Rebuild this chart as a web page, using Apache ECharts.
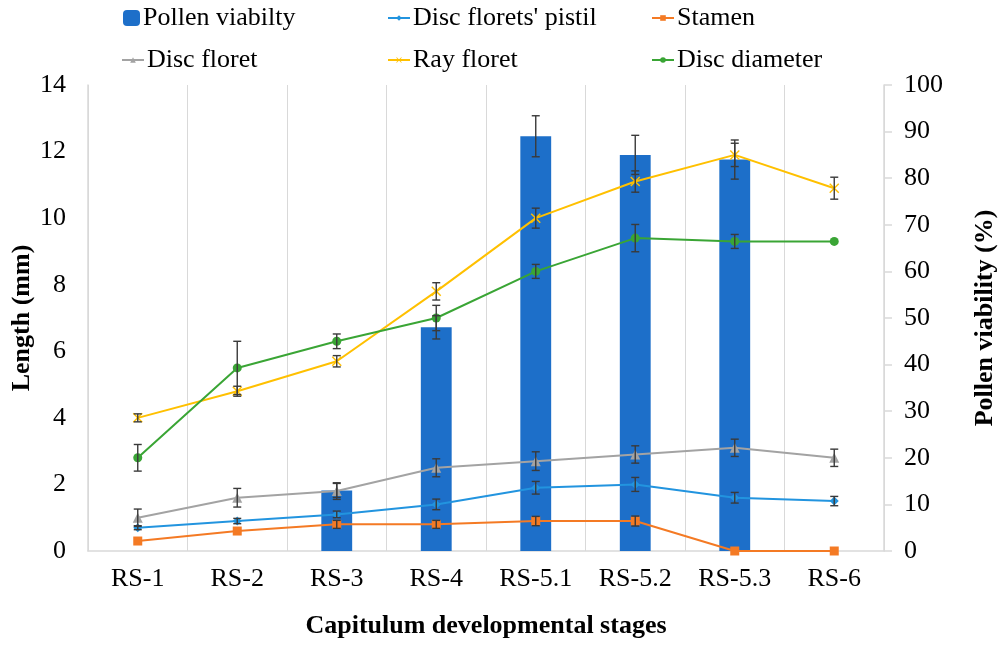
<!DOCTYPE html>
<html>
<head>
<meta charset="utf-8">
<script src="https://cdn.jsdelivr.net/npm/echarts@6/dist/echarts.min.js"></script>
<style>
  html, body { margin: 0; padding: 0; background: #fff; }
  #chart { width: 1000px; height: 646px; }
</style>
</head>
<body>
<div id="chart"></div>
<script>
// Capitulum stages
const stages = ['RS-1', 'RS-2', 'RS-3', 'RS-4', 'RS-5.1', 'RS-5.2', 'RS-5.3', 'RS-6'];

// Pollen viability (%) with standard errors
const pollenViability = [null, null, 13, 48, 89, 85, 84, null];
const pollenViabilityErr = [null, null, 1.5, 2.5, 4.4, 4.2, 4.2, null];

// Lengths (mm) with standard errors
const pistil = [0.7, 0.9, 1.1, 1.4, 1.9, 2.0, 1.6, 1.5];
const pistilErr = [0.06, 0.08, 0.1, 0.16, 0.19, 0.21, 0.16, 0.14];

const stamen = [0.3, 0.6, 0.8, 0.8, 0.9, 0.9, 0.0, 0.0];
const stamenErr = [null, null, 0.12, 0.12, 0.14, 0.15, null, null];

const discFloret = [1.0, 1.6, 1.8, 2.5, 2.7, 2.9, 3.1, 2.8];
const discFloretErr = [0.26, 0.28, 0.25, 0.27, 0.28, 0.26, 0.26, 0.26];

const rayFloret = [4.0, 4.8, 5.7, 7.8, 10.0, 11.1, 11.9, 10.9];
const rayFloretErr = [0.12, 0.15, 0.17, 0.26, 0.3, 0.32, 0.35, 0.33];

const discDiameter = [2.8, 5.5, 6.3, 7.0, 8.4, 9.4, 9.3, 9.3];
const discDiameterErr = [0.4, 0.8, 0.22, 0.38, 0.21, 0.41, 0.21, null];

const FONT = "'Liberation Serif', 'Times New Roman', serif";
const GRIDLINE = '#D9D9D9';

const colors = {
  pollen: '#1D6FC9',
  pistil: '#2294DF',
  stamen: '#F47A24',
  discFloret: '#A3A3A3',
  rayFloret: '#FFC000',
  discDiameter: '#3AA535'
};

// x-shaped marker for the ray floret series
const crossSymbol = 'path://M1,0L5,4L9,0L10,1L6,5L10,9L9,10L5,6L1,10L0,9L4,5L0,1Z';

// Error bar rows: [category index, low, high]
function errRows(values, errs) {
  const rows = [];
  values.forEach((v, i) => {
    if (v !== null && errs[i] !== null && errs[i] !== undefined) {
      rows.push([i, v - errs[i], v + errs[i]]);
    }
  });
  return rows;
}

function errorBarSeries(values, errs, yAxisIndex) {
  return {
    type: 'custom',
    yAxisIndex: yAxisIndex,
    z: 10,
    silent: true,
    data: errRows(values, errs),
    renderItem: function (params, api) {
      const x = api.value(0);
      const lo = api.coord([x, api.value(1)]);
      const hi = api.coord([x, api.value(2)]);
      const cap = 4;
      const style = { stroke: '#3A3A3A', lineWidth: 1.4 };
      return {
        type: 'group',
        children: [
          { type: 'line', shape: { x1: lo[0], y1: lo[1], x2: hi[0], y2: hi[1] }, style: style },
          { type: 'line', shape: { x1: lo[0] - cap, y1: lo[1], x2: lo[0] + cap, y2: lo[1] }, style: style },
          { type: 'line', shape: { x1: hi[0] - cap, y1: hi[1], x2: hi[0] + cap, y2: hi[1] }, style: style }
        ]
      };
    }
  };
}

function lineSeries(name, data, color, symbol, size) {
  return {
    name: name,
    type: 'line',
    data: data,
    yAxisIndex: 0,
    z: 5,
    symbol: symbol,
    symbolSize: size,
    lineStyle: { color: color, width: 2 },
    itemStyle: { color: color },
    emphasis: { disabled: true }
  };
}

const legendText = { fontFamily: FONT, fontSize: 26, color: '#000' };
function legendAt(name, left, top, isBar) {
  return {
    data: [name],
    left: left,
    top: top,
    orient: 'horizontal',
    selectedMode: false,
    itemWidth: isBar ? 17 : 22,
    itemHeight: isBar ? 16 : 7,
    itemGap: 4,
    padding: 0,
    textStyle: Object.assign({ padding: [0, 0, 0, -2] }, legendText)
  };
}

const chart = echarts.init(document.getElementById('chart'), null, { renderer: 'canvas' });

chart.setOption({
  animation: false,
  backgroundColor: '#fff',
  legend: [
    legendAt('Pollen viabilty', 123, 5, true),
    legendAt("Disc florets' pistil", 387, 5),
    legendAt('Stamen', 651, 5),
    legendAt('Disc floret', 121, 47),
    legendAt('Ray floret', 387, 47),
    legendAt('Disc diameter', 651, 47)
  ],
  grid: { left: 88, right: 116, top: 85, bottom: 95, containLabel: false, outerBoundsMode: 'none' },
  xAxis: {
    type: 'category',
    data: stages,
    boundaryGap: true,
    axisLine: { show: true, lineStyle: { color: GRIDLINE, width: 1.5 } },
    axisTick: { show: false },
    splitLine: { show: true, lineStyle: { color: GRIDLINE, width: 1 } },
    axisLabel: { fontFamily: FONT, fontSize: 26, color: '#000', margin: 15 },
    name: 'Capitulum developmental stages',
    nameLocation: 'middle',
    nameGap: 62,
    nameTextStyle: { fontFamily: FONT, fontSize: 26, fontWeight: 'bold', color: '#000' }
  },
  yAxis: [
    {
      type: 'value',
      min: 0,
      max: 14,
      interval: 2,
      axisLine: { show: true, lineStyle: { color: GRIDLINE, width: 1.5 } },
      axisTick: { show: false },
      splitLine: { show: false },
      axisLabel: { fontFamily: FONT, fontSize: 26, color: '#000', margin: 22 },
      name: 'Length (mm)',
      nameLocation: 'middle',
      nameRotate: 90,
      nameGap: 53,
      nameMoveOverlap: false,
      nameTextStyle: { fontFamily: FONT, fontSize: 26, fontWeight: 'bold', color: '#000' }
    },
    {
      type: 'value',
      position: 'right',
      min: 0,
      max: 100,
      interval: 10,
      axisLine: { show: true, lineStyle: { color: GRIDLINE, width: 1.5 } },
      axisTick: { show: true, length: 8, lineStyle: { color: GRIDLINE, width: 1.5 } },
      splitLine: { show: false },
      axisLabel: { fontFamily: FONT, fontSize: 26, color: '#000', margin: 20 },
      name: 'Pollen viability (%)',
      nameLocation: 'middle',
      nameRotate: 90,
      nameGap: 88,
      nameTextStyle: { fontFamily: FONT, fontSize: 26, fontWeight: 'bold', color: '#000' }
    }
  ],
  series: [
    {
      name: 'Pollen viabilty',
      type: 'bar',
      yAxisIndex: 1,
      data: pollenViability,
      barWidth: '31%',
      z: 2,
      itemStyle: { color: colors.pollen },
      emphasis: { disabled: true }
    },
    lineSeries("Disc florets' pistil", pistil, colors.pistil, 'diamond', 9),
    lineSeries('Stamen', stamen, colors.stamen, 'rect', 9),
    lineSeries('Disc floret', discFloret, colors.discFloret, 'triangle', 10),
    lineSeries('Ray floret', rayFloret, colors.rayFloret, crossSymbol, 10),
    lineSeries('Disc diameter', discDiameter, colors.discDiameter, 'circle', 9),
    errorBarSeries(pollenViability, pollenViabilityErr, 1),
    errorBarSeries(pistil, pistilErr, 0),
    errorBarSeries(stamen, stamenErr, 0),
    errorBarSeries(discFloret, discFloretErr, 0),
    errorBarSeries(rayFloret, rayFloretErr, 0),
    errorBarSeries(discDiameter, discDiameterErr, 0)
  ]
});
</script>
</body>
</html>
